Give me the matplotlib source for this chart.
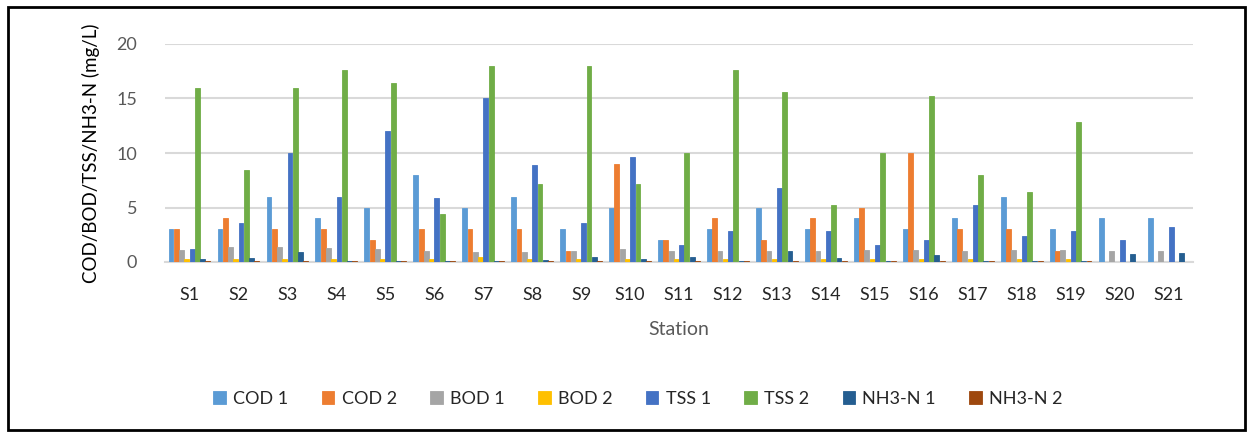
import matplotlib.pyplot as plt
import numpy as np
from matplotlib.patches import Rectangle

# stations
stations = ["S%d" % i for i in range(1, 22)]

# values (mg/L)
cod1 = [3, 3, 6, 4, 5, 8, 5, 6, 3, 5, 2, 3, 5, 3, 4, 3, 4, 6, 3, 4, 4]
cod2 = [3, 4, 3, 3, 2, 3, 3, 3, 1, 9, 2, 4, 2, 4, 5, 10, 3, 3, 1, 0, 0]
bod1 = [1.1, 1.4, 1.4, 1.3, 1.2, 1.0, 0.9, 0.9, 1.0, 1.2, 1.0, 1.0, 1.0, 1.0, 1.1, 1.1, 1.0, 1.1, 1.1, 1.0, 1.0]
bod2 = [0.3, 0.3, 0.3, 0.3, 0.3, 0.3, 0.5, 0.3, 0.3, 0.3, 0.3, 0.3, 0.3, 0.3, 0.3, 0.3, 0.3, 0.3, 0.3, 0, 0]
tss1 = [1.2, 3.6, 10, 6, 12, 5.9, 15, 8.9, 3.6, 9.6, 1.6, 2.8, 6.8, 2.8, 1.6, 2.0, 5.2, 2.4, 2.8, 2.0, 3.2]
tss2 = [16, 8.4, 16, 17.6, 16.4, 4.4, 18, 7.2, 18, 7.2, 10, 17.6, 15.6, 5.2, 10, 15.2, 8, 6.4, 12.8, 0, 0]
nh1 = [0.25, 0.4, 0.95, 0.1, 0.1, 0.1, 0.1, 0.15, 0.45, 0.25, 0.45, 0.1, 1.05, 0.35, 0.1, 0.65, 0.1, 0.1, 0.1, 0.7, 0.85]
nh2 = [0.05] * 19 + [0, 0]

series = [cod1, cod2, bod1, bod2, tss1, tss2, nh1, nh2]
labels = ["COD 1", "COD 2", "BOD 1", "BOD 2", "TSS 1", "TSS 2", "NH3-N 1", "NH3-N 2"]
colors = ["#5B9BD5", "#ED7D31", "#A5A5A5", "#FFC000", "#4472C4", "#70AD47", "#255E91", "#9E480E"]

plt.rcParams['font.family'] = ['Lato', 'DejaVu Sans']

fig = plt.figure(figsize=(12.54, 4.34), dpi=100)
ax = fig.add_axes([165 / 1254, 1 - 262 / 434, 1028 / 1254, 218 / 434])

x = np.arange(len(stations))
n = len(series)
width = 0.86 / n
for i, (vals, lab, col) in enumerate(zip(series, labels, colors)):
    offs = (i - (n - 1) / 2) * width
    ax.bar(x + offs, vals, width * 0.92, color=col, label=lab,
           edgecolor=col, linewidth=0.6, zorder=3)

ax.set_xlim(-0.5, len(stations) - 0.5)
ax.set_ylim(0, 20)
ax.set_yticks([0, 5, 10, 15, 20])
ax.set_xticks(x)
ax.set_xticklabels(stations, fontsize=13, color="#262626")
ax.tick_params(axis="y", labelsize=13, labelcolor="#595959", length=0, pad=20)
ax.tick_params(axis="x", length=0, pad=18)
ax.grid(axis="y", color="#D9D9D9", linewidth=1.5, zorder=0)
for s in ["top", "right", "left"]:
    ax.spines[s].set_visible(False)
ax.spines["bottom"].set_color("#D9D9D9")
ax.spines["bottom"].set_linewidth(1.5)

ax.set_ylabel("COD/BOD/TSS/NH3-N (mg/L)", fontsize=13.5, color="black", labelpad=12)
ax.set_xlabel("Station", fontsize=14, color="#595959", labelpad=13)

fig.legend(loc="center", bbox_to_anchor=(638 / 1254, 1 - 399 / 434), ncol=8,
           frameon=False, fontsize=13, handlelength=0.7, handleheight=0.7,
           handletextpad=0.4, columnspacing=1.85, labelcolor="#262626")

fig.patches.append(Rectangle((8 / 1254, 4 / 434), 1237 / 1254, 423 / 434,
                             transform=fig.transFigure, fill=False,
                             edgecolor="black", linewidth=2))

fig.savefig("out.png", dpi=100)
